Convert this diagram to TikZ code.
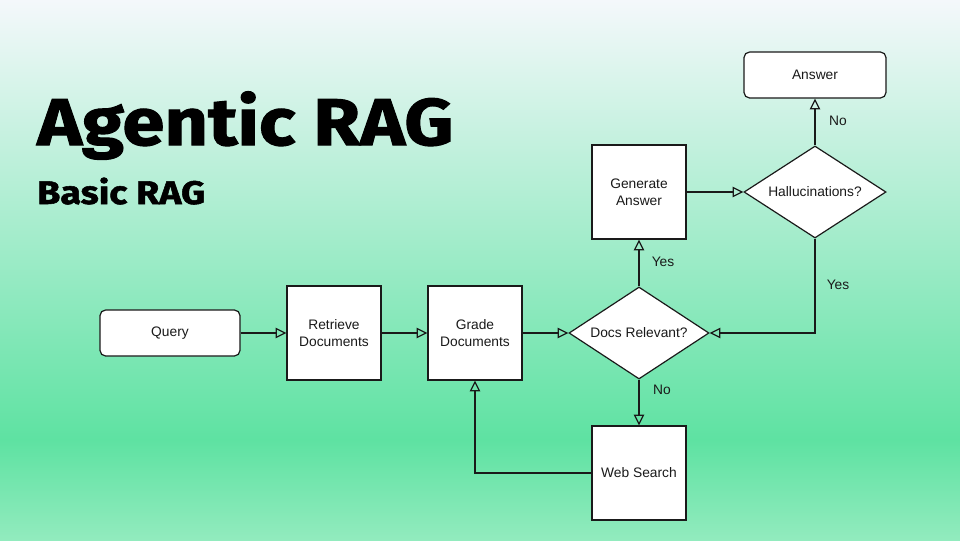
\documentclass[tikz,border=0pt]{standalone}
\usepackage{fontspec}
\setmainfont{Liberation Sans}
\newfontfamily\titlefont[FakeStretch=1.15,FakeBold=1.6]{Fira Sans}
\usetikzlibrary{arrows.meta,positioning,shapes.geometric}
\definecolor{RagInk}{RGB}{26,26,26}
\definecolor{RagTop}{RGB}{244,248,251}
\definecolor{RagMid}{RGB}{94,226,162}
\definecolor{RagBottom}{RGB}{146,235,190}
\tikzset{
  rag/box/.style={
    draw=RagInk,
    line width=0.85pt,
    fill=white,
    align=center,
    text=RagInk,
    minimum width=2.35cm,
    minimum height=2.35cm,
    inner sep=2pt,
    font=\fontsize{9.8}{12}\selectfont
  },
  rag/round/.style={
    rag/box,
    rounded corners=4pt,
    minimum width=3.5cm,
    minimum height=1.15cm
  },
  rag/decision/.style={
    diamond,
    draw=RagInk,
    line width=0.85pt,
    fill=white,
    align=center,
    text=RagInk,
    aspect=1.5,
    inner sep=0pt,
    minimum width=3.5cm,
    minimum height=2.3cm,
    font=\fontsize{9.8}{12}\selectfont
  },
  rag/arrow/.style={-{Triangle[open,length=2.7mm,width=2.6mm]}, line width=0.85pt, draw=RagInk},
  rag/label/.style={font=\fontsize{9.8}{12}\selectfont, text=RagInk, inner sep=0pt},
  rag/title/.style={font=\titlefont\bfseries\fontsize{47}{56}\selectfont, text=black, anchor=base west, inner sep=0pt},
  rag/subtitle/.style={font=\titlefont\bfseries\fontsize{23.2}{28}\selectfont, text=black, anchor=base west, inner sep=0pt}
}

\begin{document}
\begin{tikzpicture}[x=0.025cm,y=-0.025cm]
  % background
  \useasboundingbox (0,0) rectangle (960,540);
  \shade[top color=RagTop, bottom color=RagMid] (0,0) rectangle (960,440);
  \shade[top color=RagMid, bottom color=RagBottom] (0,440) rectangle (960,540);

  % titles
  \node[rag/title] (title) at (37,145) {Agentic RAG};
  \node[rag/subtitle] (subtitle) at (37,204) {Basic RAG};

  % flow
  \node[rag/round,minimum width=3.5cm] (query) at (170,333) {Query};
  \node[rag/box] (retrieve) at (334,333) {Retrieve\\Documents};
  \node[rag/box] (grade) at (475,333) {Grade\\Documents};
  \node[rag/decision] (docs) at (639,333) {Docs Relevant?};
  \node[rag/box] (generate) at (639,192) {Generate\\Answer};
  \node[rag/decision,minimum width=3.55cm] (hallu) at (815,192) {Hallucinations?};
  \node[rag/round,minimum width=3.55cm] (answer) at (815,75) {Answer};
  \node[rag/box] (web) at (639,473) {Web Search};

  \draw[rag/arrow] (query) -- (retrieve);
  \draw[rag/arrow] (retrieve) -- (grade);
  \draw[rag/arrow] (grade) -- (docs);
  \draw[rag/arrow] (docs) -- (generate);
  \draw[rag/arrow] (docs) -- (web);
  \draw[rag/arrow] (web.west) -| (grade.south);
  \draw[rag/arrow] (generate) -- (hallu);
  \draw[rag/arrow] (hallu) -- (answer);
  \draw[rag/arrow] (hallu.south) |- (docs.east);

  \node[rag/label] (yes1) at (663,262) {Yes};
  \node[rag/label] (no1) at (662,390) {No};
  \node[rag/label] (no2) at (838,121) {No};
  \node[rag/label] (yes2) at (838,285) {Yes};
\end{tikzpicture}
\end{document}
